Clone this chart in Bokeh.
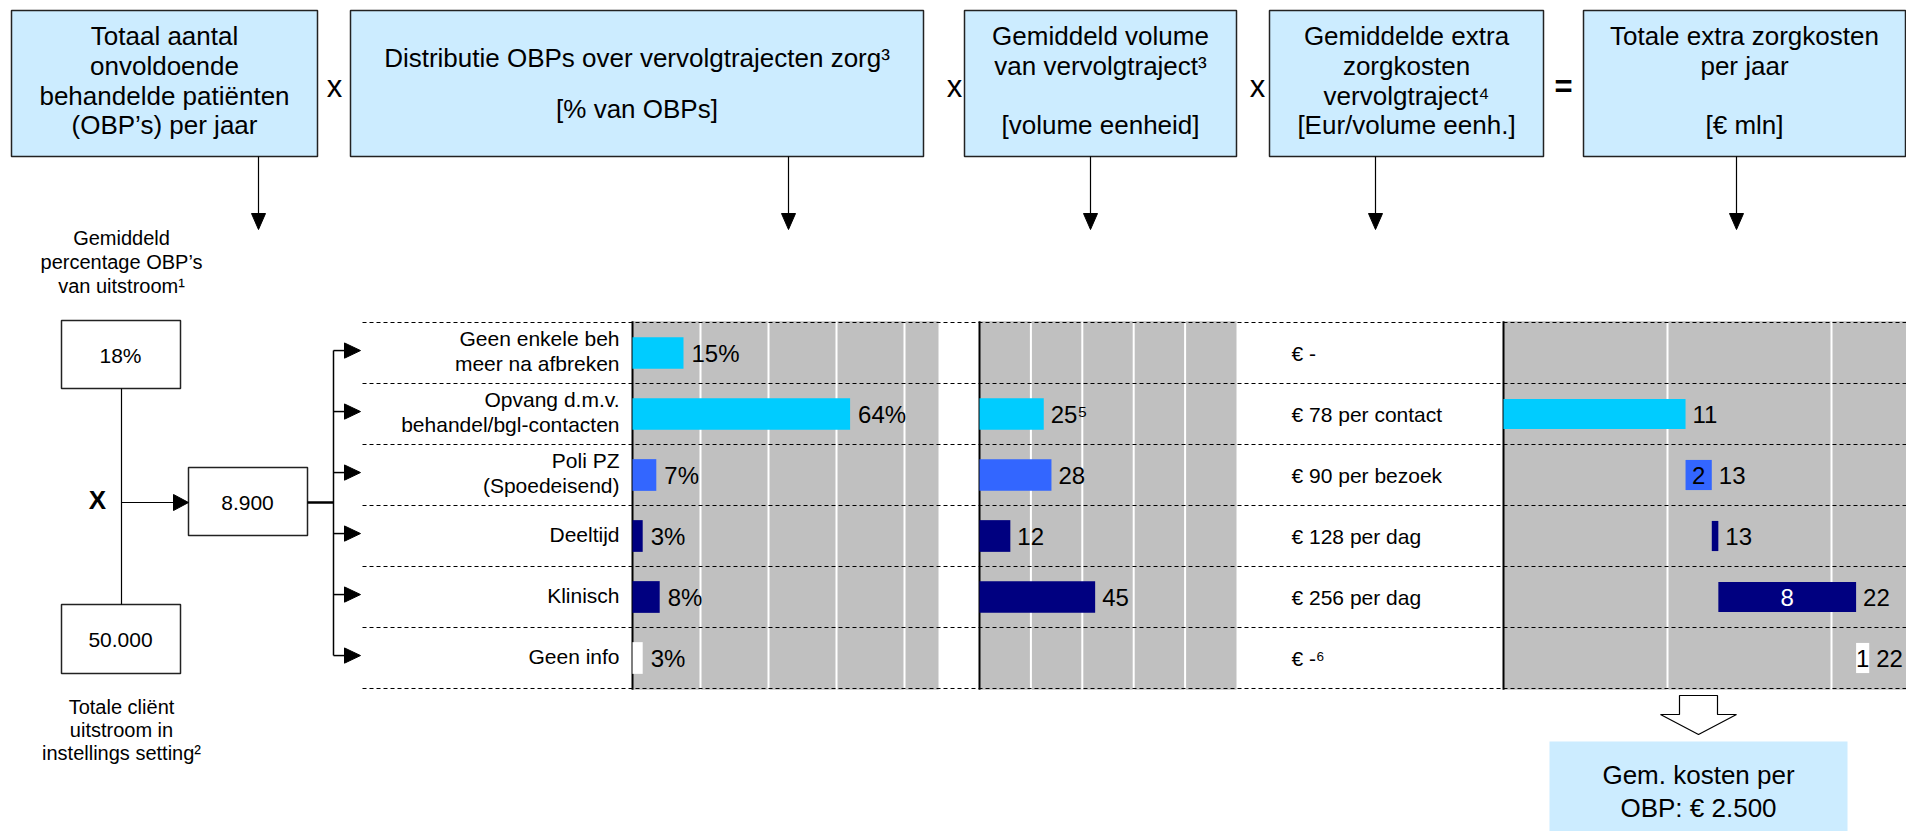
from bokeh.plotting import figure
from bokeh.models import Range1d, ColumnDataSource
from bokeh.embed import file_html
from bokeh.resources import INLINE
from bokeh.core.properties import value

# ---------------- data ----------------
categories = ["Geen enkele beh\nmeer na afbreken", "Opvang d.m.v.\nbehandel/bgl-contacten",
              "Poli PZ\n(Spoedeisend)", "Deeltijd", "Klinisch", "Geen info"]
distribution_pct = [15, 64, 7, 3, 8, 3]
volume = [0, 25, 28, 12, 45, 0]
volume_labels = ["", "25\u2075", "28", "12", "45", ""]
cost_per_unit = ["\u20ac -", "\u20ac 78 per contact", "\u20ac 90 per bezoek",
                 "\u20ac 128 per dag", "\u20ac 256 per dag", "\u20ac -\u2076"]
extra_cost_mln = [0.0, 11.1, 1.6, 0.4, 8.4, 0.8]
row_colors = ["#00CCFF", "#00CCFF", "#3366FF", "#000080", "#000080", "#FFFFFF"]
inside_label_colors = ["black", "black", "black", "white", "white", "black"]

header_texts = [
    ["Totaal aantal", "onvoldoende", "behandelde pati\u00ebnten", "(OBP\u2019s) per jaar"],
    ["Distributie OBPs over vervolgtrajecten zorg\u00b3", "[% van OBPs]"],
    ["Gemiddeld volume", "van vervolgtraject\u00b3", "[volume eenheid]"],
    ["Gemiddelde extra", "zorgkosten", "vervolgtraject\u2074", "[Eur/volume eenh.]"],
    ["Totale extra zorgkosten", "per jaar", "[\u20ac mln]"],
]
operators = ["x", "x", "x", "="]
share_obp = "18%"
obp_count = "8.900"
total_outflow = "50.000"
share_caption = ["Gemiddeld", "percentage OBP\u2019s", "van uitstroom\u00b9"]
outflow_caption = ["Totale cli\u00ebnt", "uitstroom in", "instellings setting\u00b2"]
avg_cost_text = ["Gem. kosten per", "OBP: \u20ac 2.500"]

# ---------------- layout constants ----------------
W, H = 1906, 831
X0, X1 = 0, W
Y0, Y1 = 0, H
ROW0, ROWH = 352.5, 61.0
FONT = value("Liberation Sans")
HDR_FILL = "#CCECFF"
GREY = "#C0C0C0"

p = figure(width=W, height=H, output_backend="svg", toolbar_location=None,
           x_range=Range1d(X0, X1), y_range=Range1d(Y1, Y0),
           x_axis_type=None, y_axis_type=None, min_border=0,
           outline_line_color=None, background_fill_color="white")
p.grid.visible = False


def xr(px0, k):
    return Range1d(start=(X0 - px0) / k, end=(X1 - px0) / k)


P1_PX, P1_MAX, P1_END = 632, 90, 938
P2_PX, P2_MAX, P2_END = 979, 100, 1236
P4_PX, P4_K = 1503, 16.4
p.extra_x_ranges = {
    "p1": xr(P1_PX, (P1_END - P1_PX) / P1_MAX),
    "p2": xr(P2_PX, (P2_END - P2_PX) / P2_MAX),
    "p4": xr(P4_PX, P4_K),
}
p.extra_y_ranges = {"rows": Range1d(start=(Y1 - ROW0) / ROWH, end=(Y0 - ROW0) / ROWH)}

n = len(categories)
rows = list(range(n))


def txt(x, y, t, size, align="center", bold=False, color="black", **kw):
    p.text(x=x, y=y, text=t, text_font=FONT, text_font_size=size, text_align=align,
           text_baseline="middle", text_color=color,
           text_font_style="bold" if bold else "normal", **kw)


# ---------------- header boxes ----------------
box_l = [11, 350, 964, 1269, 1583]
box_r = [317, 923, 1236, 1543, 1905]
line_y = [[35, 65, 95, 124], [57, 108], [35, 65, 124], [35, 65, 95, 124], [35, 65, 124]]
p.quad(left=box_l, right=box_r, top=[10] * 5, bottom=[156] * 5,
       fill_color=HDR_FILL, line_color="#222222", line_width=1.5)
for i, lines in enumerate(header_texts):
    cx = (box_l[i] + box_r[i]) / 2
    txt([cx] * len(lines), line_y[i], lines, "26px")
op_x = [334, 954, 1257, 1563]
for ox, op in zip(op_x, operators):
    txt([ox], [86], [op], "31px", bold=(op == "="))

arrow_x = [258, 788, 1090, 1375, 1736]
p.segment(x0=arrow_x, y0=[156] * 5, x1=arrow_x, y1=[214] * 5, line_color="black", line_width=1.2)
p.patches(xs=[[a - 7, a + 7, a] for a in arrow_x], ys=[[213, 213, 229]] * 5,
          fill_color="black", line_color="black")

# ---------------- left flow diagram ----------------
txt([121] * 3, [237, 261, 285], share_caption, "20px")
p.quad(left=[61, 188, 61], right=[180, 307, 180], top=[320, 467, 604], bottom=[388, 535, 673],
       fill_color="white", line_color="#222222", line_width=1.5)
txt([120, 247, 120], [355, 502, 639], [share_obp, obp_count, total_outflow], "21px")
txt([121] * 3, [706, 729, 752], outflow_caption, "20px")
p.segment(x0=[121], y0=[388], x1=[121], y1=[604], line_color="black", line_width=1.2)
txt([97], [499], ["X"], "26px", bold=True)
p.segment(x0=[121], y0=[502], x1=[174], y1=[502], line_color="black", line_width=1.2)
p.patch(x=[173, 173, 188], y=[494, 510, 502], fill_color="black", line_color="black")
p.segment(x0=[307], y0=[502], x1=[333], y1=[502], line_color="black", line_width=2.5)
off = -0.04
p.segment(x0=[333], y0=[off], x1=[333], y1=[n - 1 + off], line_color="black",
          line_width=1.5, y_range_name="rows")
p.segment(x0=[333] * n, y0=[r + off for r in rows], x1=[345] * n, y1=[r + off for r in rows],
          line_color="black", line_width=1.5, y_range_name="rows")
p.patches(xs=[[344, 344, 360]] * n,
          ys=[[r + off - 0.125, r + off + 0.125, r + off] for r in rows],
          fill_color="black", line_color="black", y_range_name="rows")

# ---------------- panel backgrounds ----------------
top_r, bot_r = -0.52, n - 0.48
p.quad(left=[0], right=[P1_MAX], top=[top_r], bottom=[bot_r], fill_color=GREY, line_color=None,
       x_range_name="p1", y_range_name="rows")
p.quad(left=[0], right=[P2_MAX], top=[top_r], bottom=[bot_r], fill_color=GREY, line_color=None,
       x_range_name="p2", y_range_name="rows")
p.quad(left=[0], right=[40], top=[top_r], bottom=[bot_r], fill_color=GREY, line_color=None,
       x_range_name="p4", y_range_name="rows")
for name, ticks in [("p1", [20, 40, 60, 80]), ("p2", [20, 40, 60, 80]), ("p4", [10, 20, 30])]:
    p.segment(x0=ticks, y0=[top_r] * len(ticks), x1=ticks, y1=[bot_r] * len(ticks),
              line_color="white", line_width=2, x_range_name=name, y_range_name="rows")

# dashed row separators
bounds = [r - 0.5 for r in range(n + 1)]
p.segment(x0=[362] * len(bounds), y0=bounds, x1=[X1] * len(bounds), y1=bounds,
          line_color="black", line_width=1.2, line_dash="4 3", y_range_name="rows")

# axis lines
for name in ["p1", "p2", "p4"]:
    p.segment(x0=[0], y0=[top_r], x1=[0], y1=[bot_r], line_color="black", line_width=2,
              x_range_name=name, y_range_name="rows")

BAR_H = 0.52
# ---------------- panel 1: distribution ----------------
src1 = ColumnDataSource(dict(y=rows, v=distribution_pct, c=row_colors,
                             lab=[f"{v}%" for v in distribution_pct]))
p.hbar(y="y", left=0, right="v", height=BAR_H, fill_color="c", line_color=None,
       source=src1, x_range_name="p1", y_range_name="rows")
p.text(x="v", y="y", text="lab", source=src1, x_offset=8, text_font=FONT, text_font_size="24px",
       text_baseline="middle", text_align="left", x_range_name="p1", y_range_name="rows")

# ---------------- panel 2: volume ----------------
idx2 = [i for i in rows if volume[i] > 0]
src2 = ColumnDataSource(dict(y=idx2, v=[volume[i] for i in idx2], c=[row_colors[i] for i in idx2],
                             lab=[volume_labels[i] for i in idx2]))
p.hbar(y="y", left=0, right="v", height=BAR_H, fill_color="c", line_color=None,
       source=src2, x_range_name="p2", y_range_name="rows")
p.text(x="v", y="y", text="lab", source=src2, x_offset=7, text_font=FONT, text_font_size="24px",
       text_baseline="middle", text_align="left", x_range_name="p2", y_range_name="rows")

# ---------------- panel 3: cost per unit ----------------
txt([1291] * n, rows, cost_per_unit, "21px", align="left", y_range_name="rows")

# ---------------- category labels ----------------
for i, cat in enumerate(categories):
    parts = cat.split("\n")
    k = len(parts)
    for j, part in enumerate(parts):
        txt([619], [i], [part], "21px", align="right", y_range_name="rows",
            y_offset=(j - (k - 1) / 2) * 25 - 2)

# ---------------- panel 4: waterfall ----------------
starts, ends = [], []
acc = 0.0
for v in extra_cost_mln:
    starts.append(acc)
    acc += v
    ends.append(acc)
idx4 = [i for i in rows if extra_cost_mln[i] > 0]
first = idx4[0]
src4 = ColumnDataSource(dict(
    y=idx4, l=[starts[i] for i in idx4], r=[ends[i] for i in idx4],
    c=[row_colors[i] for i in idx4],
    cum=[f"{round(ends[i])}" for i in idx4],
))
p.hbar(y="y", left="l", right="r", height=BAR_H * 0.95, fill_color="c", line_color=None,
       source=src4, x_range_name="p4", y_range_name="rows")
p.text(x="r", y="y", text="cum", source=src4, x_offset=7, text_font=FONT, text_font_size="24px",
       text_baseline="middle", text_align="left", x_range_name="p4", y_range_name="rows")
idx4i = [i for i in idx4 if i != first and extra_cost_mln[i] >= 0.5]
src4i = ColumnDataSource(dict(
    y=idx4i, x=[(starts[i] + ends[i]) / 2 for i in idx4i],
    lab=[f"{round(extra_cost_mln[i])}" for i in idx4i],
    tc=[inside_label_colors[i] for i in idx4i],
))
p.text(x="x", y="y", text="lab", source=src4i, text_color="tc", text_font=FONT,
       text_font_size="24px", text_baseline="middle", text_align="center",
       x_range_name="p4", y_range_name="rows")

# ---------------- bottom summary ----------------
p.patch(x=[1679, 1717, 1717, 1736, 1698, 1660, 1679],
        y=[695, 695, 714, 714, 734, 714, 714], fill_color="white", line_color="black",
        line_width=1.2)
p.quad(left=[1549], right=[1847], top=[741], bottom=[840], fill_color=HDR_FILL, line_color=None)
txt([1698, 1698], [774, 807], avg_cost_text, "26px")

open("out.html", "w").write(file_html(p, INLINE))
